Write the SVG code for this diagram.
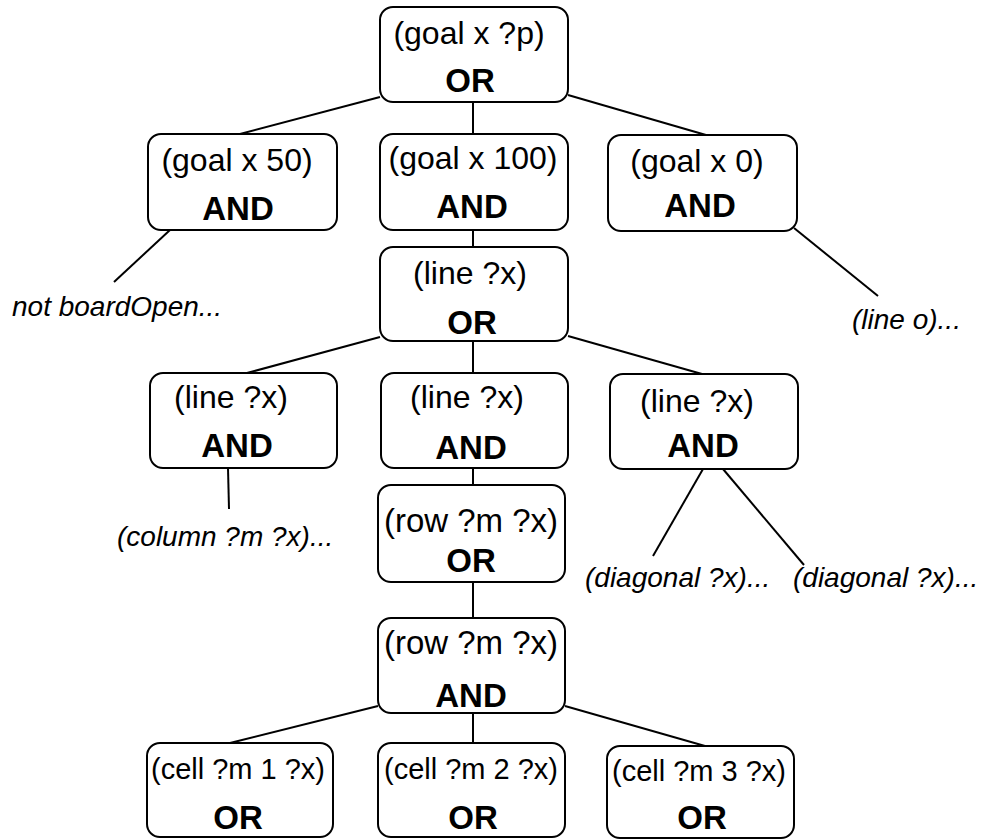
<svg xmlns="http://www.w3.org/2000/svg" width="983" height="839" viewBox="0 0 983 839">
<style>
.box{fill:#fff;stroke:#000;stroke-width:2}
.t{font-family:"Liberation Sans",Arial,sans-serif;font-size:32px;fill:#000;text-anchor:middle}
.c{font-size:29px}
.r{font-size:33px}
.b{font-family:"Liberation Sans",Arial,sans-serif;font-size:33px;font-weight:bold;fill:#000;text-anchor:middle}
.i{font-family:"Liberation Sans",Arial,sans-serif;font-size:28px;font-style:italic;fill:#000}
.e{stroke:#000;stroke-width:2;fill:none}
</style>
<rect width="983" height="839" fill="#fff"/>
<g id="connectors">
<line class="e" x1="380" y1="97" x2="240" y2="134"/>
<line class="e" x1="473" y1="102" x2="473" y2="134"/>
<line class="e" x1="568" y1="95" x2="706" y2="135"/>
<line class="e" x1="170" y1="230" x2="114" y2="282"/>
<line class="e" x1="473" y1="230" x2="473" y2="247"/>
<line class="e" x1="794" y1="228" x2="878" y2="296"/>
<line class="e" x1="380" y1="337" x2="247" y2="373"/>
<line class="e" x1="473" y1="341" x2="473" y2="373"/>
<line class="e" x1="568" y1="336" x2="702" y2="374"/>
<line class="e" x1="228" y1="468" x2="229" y2="509"/>
<line class="e" x1="473" y1="468" x2="473" y2="485"/>
<line class="e" x1="703" y1="469" x2="653" y2="556"/>
<line class="e" x1="723" y1="469" x2="804" y2="565"/>
<line class="e" x1="473" y1="582" x2="473" y2="618"/>
<line class="e" x1="378" y1="706" x2="230" y2="743"/>
<line class="e" x1="473" y1="713" x2="473" y2="743"/>
<line class="e" x1="565" y1="706" x2="705" y2="746"/>
</g>
<g id="n-goal-p">
<rect class="box" x="380" y="7" width="188" height="95" rx="13"/>
<text class="t" x="469" y="44">(goal x ?p)</text>
<text class="b" x="470" y="92">OR</text>
</g>
<g id="n-goal-50">
<rect class="box" x="148" y="134" width="189" height="96" rx="13"/>
<text class="t" x="237" y="171">(goal x 50)</text>
<text class="b" x="238" y="220">AND</text>
</g>
<g id="n-goal-100">
<rect class="box" x="380" y="134" width="188" height="96" rx="13"/>
<text class="t" x="473" y="169">(goal x 100)</text>
<text class="b" x="472" y="218">AND</text>
</g>
<g id="n-goal-0">
<rect class="box" x="608" y="135" width="189" height="96" rx="13"/>
<text class="t" x="697" y="172">(goal x 0)</text>
<text class="b" x="700" y="217">AND</text>
</g>
<g id="n-line-or">
<rect class="box" x="380" y="247" width="188" height="94" rx="13"/>
<text class="t" x="470" y="284">(line ?x)</text>
<text class="b" x="472" y="334">OR</text>
</g>
<g id="n-line-and-1">
<rect class="box" x="150" y="373" width="187" height="95" rx="13"/>
<text class="t" x="231" y="408">(line ?x)</text>
<text class="b" x="237" y="457">AND</text>
</g>
<g id="n-line-and-2">
<rect class="box" x="381" y="373" width="187" height="95" rx="13"/>
<text class="t" x="467" y="408">(line ?x)</text>
<text class="b" x="471" y="459">AND</text>
</g>
<g id="n-line-and-3">
<rect class="box" x="610" y="374" width="188" height="95" rx="13"/>
<text class="t" x="697" y="412">(line ?x)</text>
<text class="b" x="703" y="457">AND</text>
</g>
<g id="n-row-or">
<rect class="box" x="378" y="485" width="187" height="97" rx="13"/>
<text class="t r" x="471" y="532">(row ?m ?x)</text>
<text class="b" x="471" y="572">OR</text>
</g>
<g id="n-row-and">
<rect class="box" x="378" y="618" width="187" height="95" rx="13"/>
<text class="t r" x="471" y="654">(row ?m ?x)</text>
<text class="b" x="471" y="707">AND</text>
</g>
<g id="n-cell-1">
<rect class="box" x="147" y="743" width="186" height="94" rx="13"/>
<text class="t c" x="238" y="779">(cell ?m 1 ?x)</text>
<text class="b" x="238" y="829">OR</text>
</g>
<g id="n-cell-2">
<rect class="box" x="378" y="743" width="187" height="94" rx="13"/>
<text class="t c" x="471" y="779">(cell ?m 2 ?x)</text>
<text class="b" x="473" y="829">OR</text>
</g>
<g id="n-cell-3">
<rect class="box" x="607" y="746" width="187" height="92" rx="13"/>
<text class="t c" x="699" y="781">(cell ?m 3 ?x)</text>
<text class="b" x="702" y="829">OR</text>
</g>
<g id="labels">
<text class="i" x="12" y="316">not boardOpen...</text>
<text class="i" x="852" y="329">(line o)...</text>
<text class="i" x="117" y="546">(column ?m ?x)...</text>
<text class="i" x="585" y="587">(diagonal ?x)...</text>
<text class="i" x="793" y="587">(diagonal ?x)...</text>
</g>
</svg>
